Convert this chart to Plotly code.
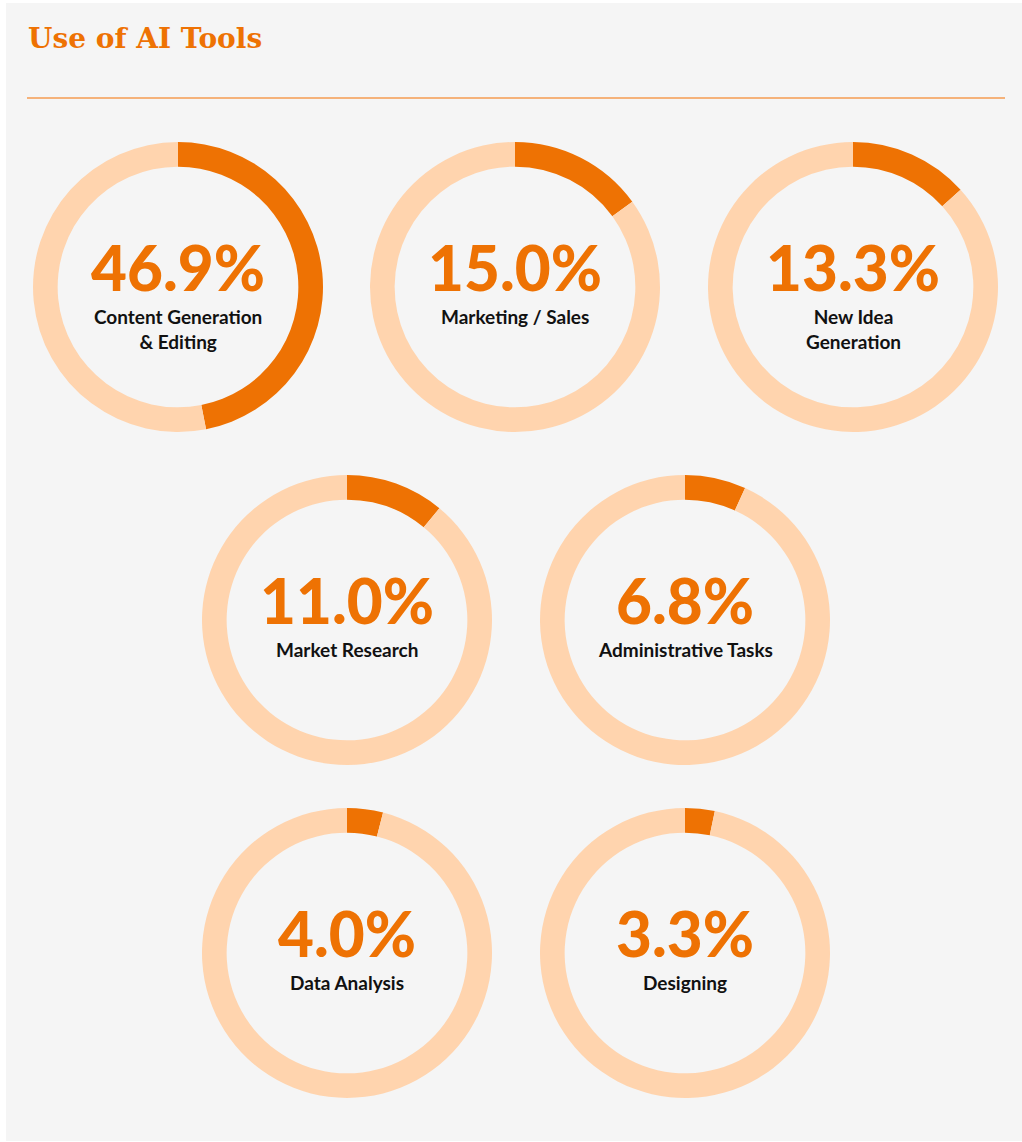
import plotly.graph_objects as go

W, H = 1022, 1142

categories = [
    "Content Generation<br>& Editing",
    "Marketing / Sales",
    "New Idea<br>Generation",
    "Market Research",
    "Administrative Tasks",
    "Data Analysis",
    "Designing",
]
shares = [46.9, 15.0, 13.3, 11.0, 6.8, 4.0, 3.3]

# donut centres in pixels (x, y from top)
centres = [(178, 287), (515, 287), (853, 287),
           (347, 620), (685, 620),
           (347, 953), (685, 953)]
R = 145

DARK = "#ee7203"
LIGHT = "#ffd4ae"
BG = "#f5f5f5"

fig = go.Figure()
annotations = []

for name, val, (cx, cy) in zip(categories, shares, centres):
    fig.add_trace(
        go.Pie(
            values=[val, 100 - val],
            labels=["Share", "Rest"],
            sort=False,
            direction="clockwise",
            rotation=0,
            hole=0.83,
            marker=dict(colors=[DARK, LIGHT], line=dict(width=0)),
            textinfo="none",
            hoverinfo="skip",
            showlegend=False,
            domain=dict(x=[(cx - R) / W, (cx + R) / W],
                        y=[1 - (cy + R) / H, 1 - (cy - R) / H]),
        )
    )
    annotations.append(dict(
        x=cx / W, y=1 - (cy - 20) / H, xref="paper", yref="paper",
        text=f"{val:.1f}%", showarrow=False,
        font=dict(family="Lato", size=62, color=DARK, weight=900),
        xanchor="center", yanchor="middle", borderpad=0,
    ))
    annotations.append(dict(
        x=cx / W, y=1 - (cy + 17) / H, xref="paper", yref="paper",
        text=name, showarrow=False,
        font=dict(family="Lato", size=19, color="#111111", weight="bold"),
        xanchor="center", yanchor="top", align="center", borderpad=0,
    ))

annotations.append(dict(
    x=26 / W, y=1 - 38 / H, xref="paper", yref="paper",
    text="Use of AI Tools", showarrow=False,
    font=dict(family="DejaVu Serif", size=28, color=DARK, weight="bold"),
    xanchor="left", yanchor="middle",
))

shapes = [
    dict(type="rect", xref="paper", yref="paper",
         x0=6 / W, x1=1, y0=1 / H, y1=1 - 3 / H,
         fillcolor=BG, line=dict(width=0), layer="below"),
    dict(type="line", xref="paper", yref="paper",
         x0=27 / W, x1=1005 / W, y0=1 - 98 / H, y1=1 - 98 / H,
         line=dict(color="#f5b27a", width=2)),
]

fig.update_layout(
    width=W,
    height=H,
    margin=dict(l=0, r=0, t=0, b=0),
    paper_bgcolor="white",
    plot_bgcolor="white",
    annotations=annotations,
    shapes=shapes,
)

# drop the page's default body margin so the figure sits at (0, 0)
fig.write_html(
    "out.html",
    config={"displayModeBar": False},
    post_script="document.body.style.margin='0';",
)
